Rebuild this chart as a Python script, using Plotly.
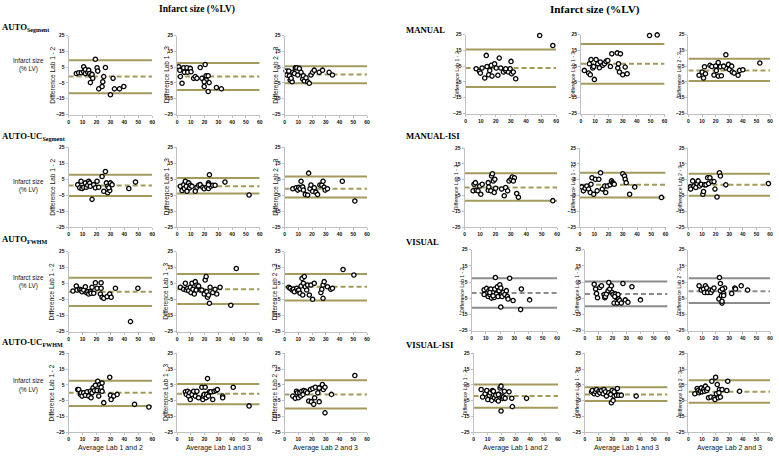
import plotly.graph_objects as go

W, H = 779, 456
OLIVE = "#A39A5C"
GREY = "#8C8C8C"
AXIS = "#BFBFBF"

X_TICKS = [0, 10, 20, 30, 40, 50, 60]
Y_TICKS = [-25, -15, -5, 5, 15, 25]
COMPARISONS = ["1 - 2", "1 - 3", "2 - 3"]
X_TITLES = ["Average Lab 1 and 2", "Average Lab 1 and 3", "Average Lab 2 and 3"]
LEFT_METHODS = ["AUTO<sub>Segment</sub>", "AUTO-UC<sub>Segment</sub>", "AUTO<sub>FWHM</sub>", "AUTO-UC<sub>FWHM</sub>"]
RIGHT_METHODS = ["MANUAL", "MANUAL-ISI", "VISUAL", "VISUAL-ISI"]
TITLE = "Infarct size (%LV)"

# ---- data: (average, difference) pairs ----
AUTO_SEG_12 = [(5.5,1.0),(7.2,1.5),(9.1,1.5),(10.8,5.2),(10.8,2.1),(12,3.5),(12,1.0),(13.7,1.7),(14.4,3.1),(15.1,1.0),(16.1,-0.4),(16.8,0.4),(15.6,-4.8),(17.3,-2.1),(19.2,10.0),(20.4,4.6),(20.9,2.5),(21.6,-8.75),(24,-7.3),(24.5,-4.2),(25.2,-1.0),(26.4,4.8),(31.9,-2.1),(30,-12.5),(32.9,-8.75),(36.5,-8.75),(39.6,-7.3)]
AUTO_SEG_13 = [(1.2,5.2),(2,3.1),(2.4,-1),(4.8,4.6),(5.3,1.7),(7.2,4.6),(7.7,1.7),(3.6,-5.2),(9.6,4.2),(10.1,2.1),(12,-2.1),(13.2,-1),(14.4,-2.1),(16.8,4.8),(18,-2.1),(20.4,6.7),(21.1,-0.4),(21.1,-3.1),(19.7,-7.3),(22.6,-0.4),(23.3,-4.8),(22.6,-10.4),(28.6,-7.9),(32.2,-8.75),(19.7,-4.2)]
AUTO_SEG_23 = [(1.2,2.5),(1.7,0),(3.1,2.5),(3.6,-0.4),(4.1,-3.1),(5.5,-4.2),(6,1.7),(7.2,1),(7.9,4.6),(8.9,4.6),(9.6,0),(10.8,4.2),(12,1.7),(13.2,-2.5),(13.7,-0.4),(14.4,-3.8),(15.6,-1.7),(16.8,-4.2),(18,-5.2),(19.2,0),(20.4,1.7),(21.6,3.1),(25.2,1.7),(27.6,3.1),(32.4,1.7),(34.8,0),(4.8,-2.1)]
AUTO_UC_SEG_12 = [(6.5,1.5),(7.9,-0.5),(8.9,3.6),(9.6,-0.9),(10.8,-0.1),(12,2.6),(12.7,-0.1),(13.7,1.1),(14.4,3.6),(15.1,2.6),(15.6,0.5),(16.8,-7.7),(18,1.5),(19.2,-0.5),(20.4,3.6),(21.6,-0.1),(24,6.6),(25.2,-2.6),(26.4,9.7),(27.1,2.6),(28,0.5),(28,-3.6),(29.5,-2.1),(30,2.6),(31.2,1.5),(43.2,-0.9),(48,3.1),(28.8,-0.5)]
AUTO_UC_SEG_13 = [(2.4,0.5),(3.6,-2.1),(4.8,1.5),(5.3,-0.9),(6,3.6),(6.7,0.5),(7.2,-2.6),(8.4,2.6),(9.1,-0.5),(9.6,1.1),(10.8,0.5),(13.2,-2.6),(14.4,-0.1),(15.6,1.1),(16.8,1.5),(18.7,-0.1),(19.7,-1.1),(21.6,-0.1),(22.8,-0.9),(22.8,2.6),(23.5,7.7),(24.5,0.5),(25.9,1.1),(27.6,1.1),(34.8,3.1),(52.3,-5.0),(22.8,1.5)]
AUTO_UC_SEG_23 = [(6,-1.1),(8.4,-0.5),(9.6,-1.9),(10.4,-0.1),(11.3,-1.1),(12,3.6),(13.2,0.1),(13.7,-1.9),(15.1,-4.6),(16.8,-5.0),(17.5,8.7),(18.5,-1.1),(19.2,1.3),(20.4,-2.6),(21.6,-0.5),(22.8,-3.2),(24,-4.6),(25.7,1.3),(27.1,1.3),(28,3.6),(28.8,-0.1),(29.5,-1.9),(31.2,-1.1),(42,3.6),(51.1,-8.7)]
AUTO_FWHM_12 = [(3.1,0.4),(5.5,3.5),(6,1.0),(7.9,1.5),(8.9,1.0),(9.6,0),(10.8,1.0),(12,3.1),(12.7,-0.6),(13.7,0),(14.4,-1.5),(15.6,0),(16.1,-1.0),(16.8,2.7),(18,-1.0),(19.2,5.6),(20.4,2.1),(22.8,-1.5),(23.3,5.6),(23.3,2.1),(24,-3.5),(25.2,-4.2),(27.6,-3.1),(29.5,-1.5),(30.5,-3.5),(33.6,2.1),(44.4,-18.75),(49.7,2.1)]
AUTO_FWHM_13 = [(2.4,2.7),(4.8,1.5),(6,5.2),(6.7,1.0),(7.7,2.1),(8.4,0.6),(9.6,2.7),(10.1,-0.6),(10.8,5.2),(11.5,1.5),(12.5,-1.5),(13.2,6.25),(13.9,1.0),(14.4,4.2),(15.6,3.5),(16.8,1.0),(18,1.0),(19.7,-1.5),(20.4,7.3),(21.1,9.4),(21.6,0),(22.1,-3.5),(23.5,-7.3),(24,2.7),(25.9,-0.6),(27.6,1.5),(28.8,-1.5),(31.2,2.7),(39,-8.5),(43,14.5),(22.8,-2.1)]
AUTO_FWHM_23 = [(3.1,2.7),(4.1,2.1),(5.5,1.0),(6.5,1.5),(7.2,0),(8.9,2.1),(9.6,0.6),(10.3,1.0),(11.3,-1.0),(12,3.5),(12.7,8.3),(13.2,-2.1),(13.7,5.2),(14.4,9.4),(15.1,3.1),(16.1,1.0),(16.8,4.2),(18,-2.1),(19.2,4.2),(20.4,-4.8),(21.6,5.2),(26.4,-0.6),(27.1,1.5),(28,-4.2),(28,4.2),(28.8,6.25),(31.2,3.1),(33.6,1.5),(34.8,2.1),(42.5,13.9),(50.4,10.4)]
AUTO_UC_FWHM_12 = [(6.5,2.1),(7.2,2.1),(8.4,-1.0),(8.9,0),(9.6,-2.1),(10.8,0),(12,-1.5),(13.2,0.6),(14.4,-2.1),(15.6,1.0),(16.1,-3.1),(16.8,0),(17.5,3.1),(18.5,1.5),(19.2,4.8),(20.4,1.5),(20.9,7.3),(21.6,-2.1),(22.3,5.2),(22.8,1.5),(23.3,3.5),(24,6.25),(24,1.0),(25.2,-6.25),(29.5,9.8),(30,-1.5),(30.5,-4.2),(32.4,-2.1),(34.8,-1.0),(47.3,-7.3),(57.6,-9.0)]
AUTO_UC_FWHM_13 = [(6,0.6),(6.7,-1.0),(7.7,1.0),(8.4,-2.1),(9.1,0),(9.6,-4.2),(10.8,-1.0),(12,1.0),(13.2,-2.1),(14.4,1.0),(15.6,-3.1),(18,3.5),(18.7,-4.2),(19.2,-2.1),(19.7,-1.0),(20.4,3.5),(21.1,-3.1),(21.6,-1.0),(22.1,9),(22.8,-2.1),(23.5,0.6),(24.5,0.6),(25.9,-4.2),(26.9,1.0),(28.3,1.5),(29.3,2.1),(33.1,-2.1),(33.1,-3.1),(40.8,3.5),(52.3,-8.3)]
AUTO_UC_FWHM_23 = [(6,-2.1),(7.8,-3.5),(8.7,1.0),(9.4,0),(10.1,-3.1),(11.1,0),(11.8,-2.1),(12.5,1.0),(13.4,-1.0),(14.1,1.5),(15.3,1.0),(16.5,0),(17.6,-5.2),(18.8,2.1),(19.5,-5.6),(20.5,2.7),(21.2,-7.3),(21.9,-3.1),(22.4,3.5),(24.2,0),(25.2,-5.6),(25.9,3.1),(27.5,5.2),(28.2,2.1),(29.4,3.5),(29.4,-12.7),(34.1,-1.0),(51.1,11.0),(25.2,3.1)]
MANUAL_12 = [(7,3.4),(9.2,1.7),(9.8,0.6),(10.9,3.8),(12.7,-2.5),(13.7,11.8),(14.2,4.8),(15.3,-0.4),(17,5.5),(17.5,-1.3),(19.2,6.5),(20.3,3.8),(21.4,-0.8),(22.3,10.1),(23.3,3.8),(25.1,1.3),(26.6,2.3),(28.4,1.3),(29.5,3.4),(30.1,8),(30.5,0.2),(31.6,1.3),(33.2,-3),(49.1,24.4),(57.8,18.1),(26.6,3.4),(16,2.3)]
MANUAL_13 = [(2.4,2.3),(5.5,0.6),(6,6.5),(6.7,-0.4),(7.2,9.2),(8.4,3.8),(9.1,4.8),(9.6,-3.4),(10.8,9.2),(12,6.5),(13.2,4),(13.9,7.6),(15.6,5.5),(16.8,6.5),(18,8),(19.2,8.6),(21.1,4.8),(22.1,12.8),(26,13.4),(26.4,3.8),(26.9,6.5),(27.6,1.3),(28.3,12.8),(30,-0.4),(31.7,4.4),(33.1,0.2),(49.2,24.4),(54.7,24.8)]
MANUAL_23 = [(7.8,-0.8),(10.1,1.3),(11.1,-2.5),(11.8,4.6),(12.5,0.2),(15.8,5.5),(17.2,4.8),(18.8,-0.6),(20,5.1),(20.5,2.3),(21.9,-1.3),(21.9,7.3),(23.5,4.6),(24.2,-1.1),(27.5,12.2),(27.5,3.8),(29.4,6.1),(30.1,2.9),(31.8,5.0),(32.2,1.3),(33.6,0.6),(36.5,-0.8),(37.6,2.3),(40,2.7),(52.5,7.0),(25.9,5.0)]
MANUAL_ISI_12 = [(5.5,-2.1),(6.1,2.1),(7,3.1),(7.6,-1.7),(8.7,-2.1),(9.8,1.0),(10.5,-4.2),(11.4,2.1),(15.3,-1.7),(15.3,3.1),(15.7,0.4),(17,-2.1),(17.5,7.3),(18,8.75),(18.6,4.2),(19.2,-3.1),(19.6,5.2),(20.1,-0.4),(24,-1.0),(25.7,-5.2),(26.6,0),(27.9,-2.1),(28.8,4.2),(30.1,5.2),(30.9,6.7),(32.3,6.2),(33.8,-3.8),(34.9,-6.2),(57.2,-8.3),(31.6,4.2)]
MANUAL_ISI_13 = [(1.2,0.4),(2.4,-2.1),(3.6,-0.4),(4.8,1.0),(6,-1.0),(7.2,-3.1),(7.7,2.1),(8.4,6.25),(9.6,-4.2),(10.8,5.2),(12,-2.1),(13.2,5.2),(14.4,9.4),(15.6,-1.0),(17.3,1.0),(18,-3.1),(19.2,1.0),(21.1,1.7),(22.1,4.2),(22.8,3.1),(23.5,2.5),(24,2.1),(30,8.75),(31.2,7.3),(31.7,5.2),(32.4,3.1),(34.8,-4.2),(38.4,0.4),(57.1,-6.25)]
MANUAL_ISI_23 = [(1.2,0.4),(1.6,-1.0),(3.1,4.2),(4,1.0),(5.4,0),(6.4,2.5),(7.1,4.2),(8.2,1.0),(9.4,2.1),(10.6,-4.2),(11.1,-2.5),(11.8,1.7),(12.9,1.7),(14.1,6.25),(14.8,2.5),(15.8,6.25),(17.2,3.75),(18.8,3.75),(19.5,-1.0),(21,-6.0),(22.8,9.4),(23.5,7.3),(27.5,1.7),(58.8,2.5)]
VISUAL_12 = [(8.8,0.3),(8.8,-2.7),(10.5,1.1),(11.6,-3.9),(12.1,-0.3),(12.8,-2.7),(13.5,0.7),(14,-4.9),(15.1,-1.4),(15.8,-4.5),(16.3,0.7),(16.7,7.8),(17.4,-2.3),(18.1,2.1),(18.6,-3.9),(19.3,-0.3),(19.8,3.3),(20.5,1.3),(20.5,-10.4),(20.9,-2.7),(21.4,-3.9),(22.1,-1.4),(23.3,-2.7),(24.4,-0.3),(25.1,-3.9),(25.6,-5.4),(26.7,7.4),(29.1,-6.4),(34.9,0.7),(34.4,-12),(40.7,-6),(12.8,-1.4),(15.1,-3.5)]
VISUAL_13 = [(6.7,3.7),(7.7,0.7),(8.4,-2),(9.1,-4.7),(10.8,1.7),(12,2.7),(13.9,-2.7),(14.4,-4.7),(14.9,-3.9),(15.6,-2.3),(16.8,-0.3),(17.3,4.7),(18,0.7),(19.2,2.7),(19.7,-1.4),(20.4,-2.7),(21.1,-8),(22.1,-2.3),(22.8,-4.7),(23.5,-8),(24,-2.7),(24.5,-5.4),(25.2,-6.4),(26.4,-8),(27.6,4.1),(29.3,-6),(31.2,-7.4),(34.1,2.1),(40.3,-6),(21.6,-3.9)]
VISUAL_23 = [(7.8,2.7),(9.4,0.1),(11.1,0.7),(11.8,-1.4),(12.5,2.7),(13.4,1.3),(14.1,-1.4),(15.8,0.1),(16.5,-1.4),(17.6,0.1),(18.8,1.3),(22.4,-5.4),(22.8,7.8),(23.5,4.1),(23.5,-0.3),(24.2,-3.3),(24.7,-8),(24.7,-6.8),(25.9,-2),(26.6,1.3),(25.9,-3.3),(31.8,-2),(34.1,1.3),(34.6,0.7),(38.8,2.7),(43.5,0.1),(24.9,0.7)]
VISUAL_ISI_12 = [(5.4,2.1),(6.4,-2.7),(8.2,-0.6),(9.4,1.5),(10.1,-4.2),(11.1,-1.5),(11.8,0),(12.9,-4.8),(13.4,1.5),(14.1,1.0),(14.8,-3.1),(15.8,-1.5),(16.5,-4.2),(17.6,-5.2),(18.1,-1.0),(18.8,3.1),(19.5,4.2),(19.5,-11.5),(20,-2.1),(20.5,-3.5),(21.2,-2.7),(21.9,1.0),(22.4,-3.5),(25.2,0.6),(27.1,-3.5),(27.5,-8.75),(37.6,-3.5),(17.6,-1.0)]
VISUAL_ISI_13 = [(4.8,0.6),(5.3,1.5),(6.7,-0.6),(7.7,0.6),(8.4,2.1),(9.1,-1.0),(10.1,1.0),(10.8,0),(12,1.5),(13.2,-0.6),(13.9,2.1),(14.9,0.6),(15.6,-2.1),(17.3,0),(18.7,-1.0),(19.2,-6.25),(19.7,1.5),(20.4,-4.8),(21.1,-2.1),(21.6,0),(22.8,-1.5),(23.5,2.7),(24.5,-1.5),(26.4,-1.5),(37.2,-2.1),(21.1,0.6)]
VISUAL_ISI_23 = [(4.7,-0.6),(6.4,2.7),(7.1,1.5),(7.8,0),(8.7,1.0),(9.4,3.1),(10.1,0.6),(11.1,2.1),(11.8,1.0),(12.5,4.2),(13.4,1.5),(14.1,2.7),(14.8,-3.1),(16.5,-2.7),(17.2,7.3),(18.8,-3.1),(19.5,-4.2),(20,9.8),(20.5,-0.6),(21.2,5.2),(21.9,-3.1),(22.8,2.1),(23.5,-2.7),(24.7,2.1),(28.2,1.5),(28.9,7.3),(37.6,1.0),(22.4,0)]

# limits of agreement: (upper, mean, lower) per comparison
AUTO_SEG_LIM = [(9.4,-1.0,-11.5),(7.7,-1.0,-9.4),(5.6,0.4,-5.2)]
AUTO_UC_SEG_LIM = [(7.7,0.9,-5.6),(5.6,0.5,-4.0),(6.6,-1.1,-6.6)]
AUTO_FWHM_LIM = [(8.75,0.0,-9.0),(11.0,1.5,-7.7),(11.0,3.1,-5.6)]
AUTO_UC_FWHM_LIM = [(7.7,0.0,-8.3),(5.6,-0.6,-7.3),(7.9,-1.0,-10.0)]
MANUAL_LIM = [(15.5,3.8,-8.2),(19.1,6.5,-6.1),(9.7,2.3,-4.4)]
MANUAL_ISI_LIM = [(9.0,0.0,-8.3),(9.4,1.7,-6.3),(8.75,1.7,-5.2)]
VISUAL_LIM = [(7.4,-1.7,-10.8),(5.4,-2.3,-10.0),(7.4,-0.7,-8.0)]
VISUAL_ISI_LIM = [(5.2,-2.1,-9.4),(3.5,-1.0,-5.2),(7.9,0.6,-6.25)]

LEFT_DATA = [[AUTO_SEG_12, AUTO_SEG_13, AUTO_SEG_23],
             [AUTO_UC_SEG_12, AUTO_UC_SEG_13, AUTO_UC_SEG_23],
             [AUTO_FWHM_12, AUTO_FWHM_13, AUTO_FWHM_23],
             [AUTO_UC_FWHM_12, AUTO_UC_FWHM_13, AUTO_UC_FWHM_23]]
RIGHT_DATA = [[MANUAL_12, MANUAL_13, MANUAL_23],
              [MANUAL_ISI_12, MANUAL_ISI_13, MANUAL_ISI_23],
              [VISUAL_12, VISUAL_13, VISUAL_23],
              [VISUAL_ISI_12, VISUAL_ISI_13, VISUAL_ISI_23]]
LEFT_LIMS = [AUTO_SEG_LIM, AUTO_UC_SEG_LIM, AUTO_FWHM_LIM, AUTO_UC_FWHM_LIM]
RIGHT_LIMS = [MANUAL_LIM, MANUAL_ISI_LIM, VISUAL_LIM, VISUAL_ISI_LIM]

# ---- layout geometry (pixels) ----
LEFT_XPX = [[(68,152),(177,260),(285,368)]] * 4
LEFT_YPX = [(33,113),(146,227),(252,333),(355,435)]
RIGHT_XPX = [[(467,558),(583,667),(691,773)],
             [(466,559),(582,668),(691,773)],
             [(473,559),(587,670),(691,773)],
             [(475,560),(587,670),(691,773)]]
RIGHT_YPX = [(32,112),(147,227),(250,332),(355,435)]
LEFT_YT_OFF = [17, 11, 10]
RIGHT_YT_OFF = [9, 8, 9]

fig = go.Figure()
annotations = []
layout = {}
SANS = "Liberation Sans"
SERIF = "Liberation Serif"
TXT = "#111111"

def px(x):
    return x / W

def py(y):
    return 1 - y / H

k = 0
for group in ("L", "R"):
    data = LEFT_DATA if group == "L" else RIGHT_DATA
    lims = LEFT_LIMS if group == "L" else RIGHT_LIMS
    ypx = LEFT_YPX if group == "L" else RIGHT_YPX
    xpx = LEFT_XPX if group == "L" else RIGHT_XPX
    for r in range(4):
        for c in range(3):
            k += 1
            xa, ya = f"x{k}", f"y{k}"
            x0, x1 = xpx[r][c]
            y0, y1 = ypx[r]
            col = GREY if (group == "R" and r == 2) else OLIVE
            up, mean, lo = lims[r][c]
            xs = [X_TICKS[0], X_TICKS[-1]]
            for val, dash in ((up, "solid"), (lo, "solid"), (mean, "5px,3px")):
                fig.add_trace(go.Scatter(x=xs, y=[val, val], mode="lines",
                                         line=dict(color=col, width=2, dash=dash),
                                         xaxis=xa, yaxis=ya, showlegend=False, hoverinfo="skip"))
            pts = data[r][c]
            fig.add_trace(go.Scatter(x=[p[0] for p in pts], y=[p[1] for p in pts], mode="markers",
                                     marker=dict(size=4.3, color="white", line=dict(color="black", width=1.3)),
                                     cliponaxis=False, xaxis=xa, yaxis=ya, showlegend=False))
            common = dict(showline=True, linecolor=AXIS, linewidth=1, ticks="outside", ticklen=2,
                          tickcolor=AXIS, tickwidth=1, showgrid=False, zeroline=False,
                          tickfont=dict(family=SANS, size=5, color=TXT, weight="bold"))
            layout["xaxis" if k == 1 else f"xaxis{k}"] = dict(
                domain=[px(x0), px(x1)], range=[X_TICKS[0], X_TICKS[-1]], anchor=ya,
                tickvals=X_TICKS, **common)
            layout["yaxis" if k == 1 else f"yaxis{k}"] = dict(
                domain=[py(y1), py(y0)], range=[Y_TICKS[0], Y_TICKS[-1]], anchor=xa,
                tickvals=Y_TICKS, **common)
            off = LEFT_YT_OFF[c] if group == "L" else RIGHT_YT_OFF[c]
            annotations.append(dict(x=px(x0 - off), y=py((y0 + y1) / 2), xref="paper", yref="paper",
                                    text=f"Difference Lab {COMPARISONS[c]}", textangle=-90,
                                    showarrow=False, xanchor="center", yanchor="middle",
                                    font=dict(family=SANS, size=6.5 if group == "L" else 5.2, color=TXT)))
            if r == 3:
                annotations.append(dict(x=px((x0 + x1) / 2), y=py(451), xref="paper", yref="paper",
                                        text=X_TITLES[c], showarrow=False, xanchor="center", yanchor="middle",
                                        font=dict(family=SANS, size=7, color=TXT)))

LEFT_LABEL_Y = [25, 135, 240, 344]
RIGHT_LABEL_Y = [27, 135, 242, 347]
for r in range(4):
    annotations.append(dict(x=0, y=py(LEFT_LABEL_Y[r]), xref="paper", yref="paper",
                            text=LEFT_METHODS[r], showarrow=False, xanchor="left", yanchor="middle",
                            align="left", borderpad=0,
                            font=dict(family=SERIF, size=8.7, color="black", weight="bold")))
    annotations.append(dict(x=px(406), y=py(RIGHT_LABEL_Y[r]), xref="paper", yref="paper",
                            text=RIGHT_METHODS[r], showarrow=False, xanchor="left", yanchor="middle",
                            align="left", borderpad=0,
                            font=dict(family=SERIF, size=8.7, color="black", weight="bold")))

INF_Y = [(58, 67), (181, 189), (278, 287), (383, 392)]
for a, b in INF_Y:
    annotations.append(dict(x=px(28), y=py(a), xref="paper", yref="paper", text="Infarct size",
                            showarrow=False, xanchor="center", yanchor="middle",
                            font=dict(family=SANS, size=6.3, color=TXT)))
    annotations.append(dict(x=px(28), y=py(b), xref="paper", yref="paper", text="(% LV)",
                            showarrow=False, xanchor="center", yanchor="middle",
                            font=dict(family=SANS, size=6.3, color=TXT)))

for cx, fs in ((197, 9.5), (597, 11.2)):
    annotations.append(dict(x=px(cx), y=py(7), xref="paper", yref="paper", text=TITLE,
                            showarrow=False, xanchor="center", yanchor="middle",
                            font=dict(family=SERIF, size=fs, color="black", weight="bold")))

fig.update_layout(width=W, height=H, margin=dict(l=0, r=0, t=0, b=0),
                  paper_bgcolor="white", plot_bgcolor="white",
                  annotations=annotations, showlegend=False, **layout)
fig.write_html("out.html", config={"displayModeBar": False},
               post_script="document.body.style.margin='0';document.body.style.overflow='hidden';")
